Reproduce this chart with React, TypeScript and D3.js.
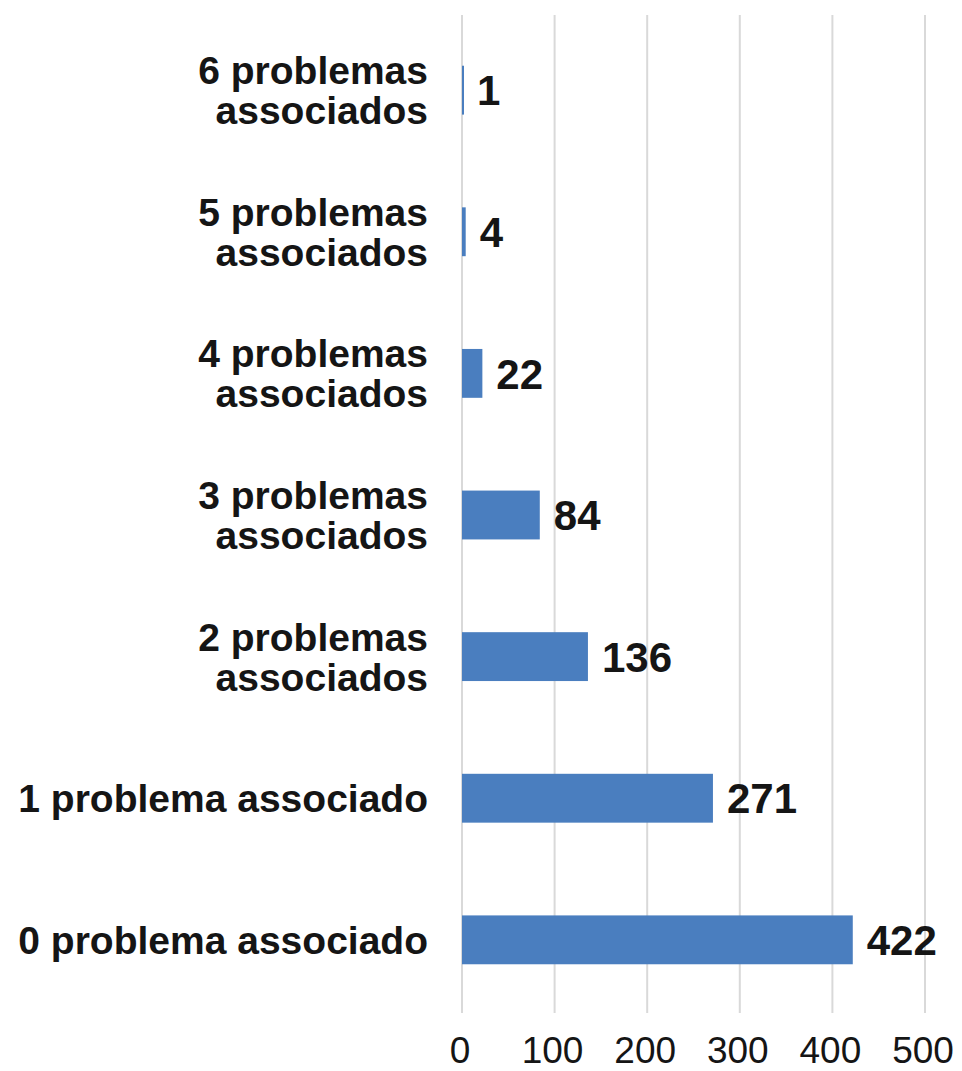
import React from "react";
import * as d3 from "d3";

const categories: string[][] = [
  ["6 problemas", "associados"],
  ["5 problemas", "associados"],
  ["4 problemas", "associados"],
  ["3 problemas", "associados"],
  ["2 problemas", "associados"],
  ["1 problema associado"],
  ["0 problema associado"],
];
const values: number[] = [1, 4, 22, 84, 136, 271, 422];
const ticks: number[] = [0, 100, 200, 300, 400, 500];

const W = 962;
const H = 1071;
const FONT = "'Liberation Sans', Arial, sans-serif";

export default function App() {
  const x = d3.scaleLinear().domain([0, 500]).range([462, 925]);
  const keys = categories.map((_, i) => String(i));
  const y = d3.scaleBand().domain(keys).range([19, 1011]).paddingInner(0.655).paddingOuter(0.33);
  const bh = y.bandwidth();

  return (
    <svg width={W} height={H} style={{ position: "absolute", left: 0, top: 0, background: "#fff" }}>
      <rect x={0} y={0} width={W} height={H} fill="#fff" />
      {ticks.map((t) => (
        <line key={"g" + t} x1={x(t)} x2={x(t)} y1={15} y2={1013} stroke="#d9d9d9" strokeWidth={2} />
      ))}
      {values.map((v, i) => {
        const yy = y(String(i))!;
        return (
          <g key={"b" + i}>
            <rect x={x(0)} y={yy} width={Math.max(x(v) - x(0), 2)} height={bh} fill="#4a7ebf" />
            <text
              x={x(v) + 14}
              y={yy + bh / 2}
              dy="0.36em"
              fontFamily={FONT}
              fontSize={42}
              fontWeight="bold"
              fill="#151515"
            >
              {v}
            </text>
          </g>
        );
      })}
      {categories.map((lines, i) => {
        const cy = y(String(i))! + bh / 2;
        const lh = 40;
        const start = cy - ((lines.length - 1) * lh) / 2;
        return (
          <text key={"c" + i} textAnchor="end" fontFamily={FONT} fontSize={39} fontWeight="bold" fill="#151515">
            {lines.map((l, j) => (
              <tspan key={j} x={428} y={start + j * lh} dy="0.36em">
                {l}
              </tspan>
            ))}
          </text>
        );
      })}
      {ticks.map((t) => (
        <text key={"t" + t} x={x(t) - 2} y={1063} textAnchor="middle" fontFamily={FONT} fontSize={37} fill="#151515">
          {t}
        </text>
      ))}
    </svg>
  );
}
